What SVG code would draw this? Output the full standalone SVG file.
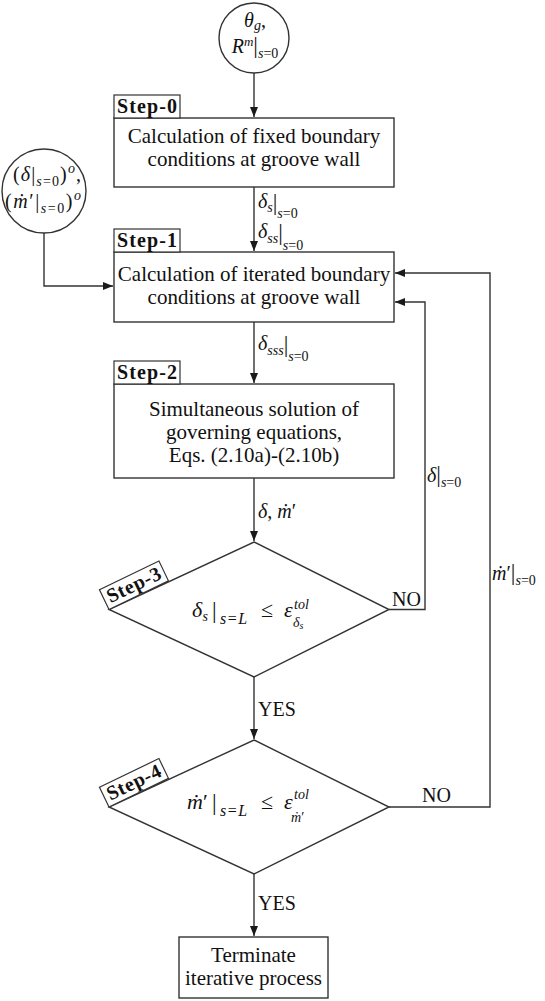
<svg xmlns="http://www.w3.org/2000/svg" width="545" height="1001" viewBox="0 0 545 1001">
<defs>
<marker id="arr" viewBox="0 0 10 8" refX="10" refY="4" markerWidth="10" markerHeight="8" markerUnits="userSpaceOnUse" orient="auto">
<path d="M0,0 L10,4 L0,8 z" fill="#1a1a1a"/>
</marker>
<style>
.sh{fill:#fff;stroke:#333;stroke-width:1.4}
.ln{fill:none;stroke:#333;stroke-width:1.4}
.t{font-family:"Liberation Serif","DejaVu Serif",serif;font-size:21px;fill:#111;text-anchor:middle}
.m{font-family:"Liberation Serif","DejaVu Serif",serif;font-size:20px;fill:#111}
.big{font-size:22px}
.bar{font-size:23px}
.i{font-style:italic}
.sb{font-size:14px}
.sp{font-size:13px}
.ss{font-size:16px;letter-spacing:1.5px}
.s2{font-size:10px}
.st{font-family:"Liberation Serif","DejaVu Serif",serif;font-size:20px;font-weight:bold;fill:#111;text-anchor:middle}
.lb{fill:#fff;stroke:#333;stroke-width:1.2}
</style>
</defs>
<rect width="545" height="1001" fill="#fff"/>

<g id="connectors">
<path class="ln" d="M254,73 V117" marker-end="url(#arr)"/>
<path class="ln" d="M254,187 V251" marker-end="url(#arr)"/>
<path class="ln" d="M44,233 V286 H113" marker-end="url(#arr)"/>
<path class="ln" d="M254,322 V383" marker-end="url(#arr)"/>
<path class="ln" d="M254,478 V541" marker-end="url(#arr)"/>
<path class="ln" d="M254,677 V739" marker-end="url(#arr)"/>
<path class="ln" d="M254,874 V936" marker-end="url(#arr)"/>
<path class="ln" d="M389,609.5 H425 V302 H395" marker-end="url(#arr)"/>
<path class="ln" d="M389,807 H490 V273 H395" marker-end="url(#arr)"/>
<text class="m" x="258" y="208"><tspan class="i">δ</tspan><tspan class="i sb" dy="4">s</tspan><tspan class="bar" dy="-2">|</tspan><tspan class="i sb" dy="8">s</tspan><tspan class="sb">=0</tspan></text>
<text class="m" x="258" y="238"><tspan class="i">δ</tspan><tspan class="i sb" dy="5">ss</tspan><tspan class="bar" dy="-3">|</tspan><tspan class="i sb" dy="10">s</tspan><tspan class="sb">=0</tspan></text>
<text class="m" x="258" y="350"><tspan class="i">δ</tspan><tspan class="i sb" dy="5">sss</tspan><tspan class="bar" dy="-3">|</tspan><tspan class="i sb" dy="9">s</tspan><tspan class="sb">=0</tspan></text>
<text class="m" x="258" y="518"><tspan class="i">δ</tspan>, <tspan class="i">ṁ</tspan>′</text>
<text class="m" x="427" y="482"><tspan class="i">δ</tspan><tspan class="bar">|</tspan><tspan class="i sb" dy="5">s</tspan><tspan class="sb">=0</tspan></text>
<text class="m" x="492" y="580"><tspan class="i">ṁ</tspan>′<tspan class="bar">|</tspan><tspan class="i sb" dy="5">s</tspan><tspan class="sb">=0</tspan></text>
<text class="m" x="392" y="606">NO</text>
<text class="m" x="422" y="802">NO</text>
<text class="m" x="258" y="716">YES</text>
<text class="m" x="258" y="910">YES</text>
</g>

<g id="input-top">
<circle class="sh" cx="254" cy="38" r="35"/>
<text class="m" x="255" y="27" text-anchor="middle"><tspan class="i">θ</tspan><tspan class="i sb" dy="3">g</tspan><tspan dy="-3">,</tspan></text>
<text class="m" x="255" y="53" text-anchor="middle"><tspan class="i">R</tspan><tspan class="i sp" dy="-7">m</tspan><tspan class="bar" dy="7">|</tspan><tspan class="i sb" dy="5">s</tspan><tspan class="sb">=0</tspan></text>
</g>

<g id="input-left">
<circle class="sh" cx="44" cy="191" r="42"/>
<text class="m" x="47" y="181" text-anchor="middle" textLength="68" lengthAdjust="spacing">(<tspan class="i">δ</tspan>|<tspan class="i sb" dy="5">s</tspan><tspan class="sb">=0</tspan><tspan dy="-5">)</tspan><tspan class="i sb" dy="-8">o</tspan><tspan dy="8">,</tspan></text>
<text class="m" x="43" y="208" text-anchor="middle" textLength="76" lengthAdjust="spacing">(<tspan class="i">ṁ</tspan>′|<tspan class="i sb" dy="5">s</tspan><tspan class="sb">=0</tspan><tspan dy="-5">)</tspan><tspan class="i sb" dy="-8">o</tspan></text>
</g>

<g id="step0">
<rect class="sh" x="114" y="118" width="280" height="69"/>
<rect class="lb" x="114" y="95" width="66" height="23"/>
<text class="st" x="147" y="113" textLength="60" lengthAdjust="spacing">Step-0</text>
<text class="t" x="254" y="143">Calculation of fixed boundary</text>
<text class="t" x="254" y="166">conditions at groove wall</text>
</g>

<g id="step1">
<rect class="sh" x="114" y="252" width="280" height="70"/>
<rect class="lb" x="114" y="229" width="66" height="23"/>
<text class="st" x="147" y="247" textLength="60" lengthAdjust="spacing">Step-1</text>
<text class="t" x="254" y="281">Calculation of iterated boundary</text>
<text class="t" x="254" y="304">conditions at groove wall</text>
</g>

<g id="step2">
<rect class="sh" x="114" y="384" width="280" height="94"/>
<rect class="lb" x="114" y="361" width="66" height="23"/>
<text class="st" x="147" y="379" textLength="60" lengthAdjust="spacing">Step-2</text>
<text class="t" x="254" y="416">Simultaneous solution of</text>
<text class="t" x="254" y="439">governing equations,</text>
<text class="t" x="254" y="462">Eqs. (2.10a)-(2.10b)</text>
</g>

<g id="step3">
<path class="sh" d="M254,542 L389,609.5 L254,677 L109,609.5 z"/>
<g transform="translate(109,609.5) rotate(-25.7)">
<rect class="lb" x="0" y="-22" width="66" height="22"/>
<text class="st" x="33" y="-5" textLength="58" lengthAdjust="spacing">Step-3</text>
</g>
<text class="m big i" x="192" y="617">δ</text>
<text class="m sb i" x="202.5" y="621">s</text>
<text class="m bar" x="212" y="618">|</text>
<text class="m ss" x="220" y="624"><tspan class="i">s</tspan>=<tspan class="i">L</tspan></text>
<text class="m big" x="261" y="617">≤</text>
<text class="m big i" x="284" y="617">ε</text>
<text class="m sb i" x="294" y="609">tol</text>
<text class="m sb i" x="293" y="627">δ<tspan class="s2" dy="2">s</tspan></text>
</g>

<g id="step4">
<path class="sh" d="M254,740 L389,807 L254,874 L109,807 z"/>
<g transform="translate(109,807) rotate(-25.7)">
<rect class="lb" x="0" y="-22" width="66" height="22"/>
<text class="st" x="33" y="-5" textLength="58" lengthAdjust="spacing">Step-4</text>
</g>
<text class="m big" x="187" y="809"><tspan class="i">ṁ</tspan>′</text>
<text class="m bar" x="212" y="810">|</text>
<text class="m ss" x="220" y="816"><tspan class="i">s</tspan>=<tspan class="i">L</tspan></text>
<text class="m big" x="261" y="809">≤</text>
<text class="m big i" x="284" y="809">ε</text>
<text class="m sb i" x="294" y="799">tol</text>
<text class="m sb" x="291" y="822"><tspan class="i">ṁ</tspan>′</text>
</g>

<g id="terminate">
<rect class="sh" x="179" y="937" width="149" height="61"/>
<text class="t" x="253.5" y="962">Terminate</text>
<text class="t" x="253.5" y="985">iterative process</text>
</g>
</svg>
